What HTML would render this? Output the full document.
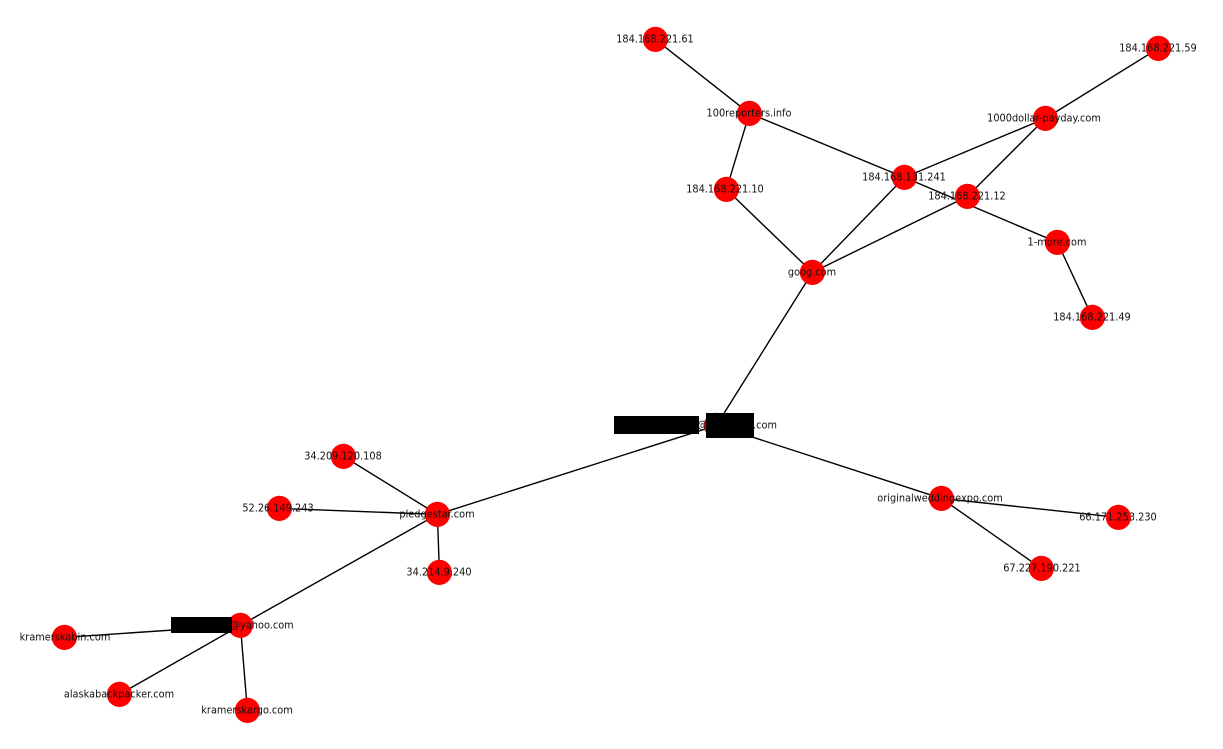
<!DOCTYPE html>
<html>
<head>
<meta charset="utf-8">
<style>
html,body{margin:0;padding:0;background:#fff;}
svg{display:block;}
text{font-family:"DejaVu Sans",sans-serif;font-size:10.5px;fill:#111;text-anchor:middle;dominant-baseline:central;transform-box:fill-box;transform-origin:center;transform:scaleX(.93);}
</style>
</head>
<body>
<svg width="1223" height="749" viewBox="0 0 1223 749" xmlns="http://www.w3.org/2000/svg">
<g transform="translate(0.4,0.4)">
<g stroke="#000" stroke-width="1.4" fill="none">
<line x1="655" y1="39" x2="749" y2="113"/>
<line x1="749" y1="113" x2="726" y2="189"/>
<line x1="749" y1="113" x2="904" y2="177"/>
<line x1="726" y1="189" x2="812" y2="272"/>
<line x1="904" y1="177" x2="812" y2="272"/>
<line x1="904" y1="177" x2="1045" y2="118"/>
<line x1="904" y1="177" x2="1057" y2="242"/>
<line x1="967" y1="196" x2="812" y2="272"/>
<line x1="967" y1="196" x2="1045" y2="118"/>
<line x1="1045" y1="118" x2="1158" y2="48"/>
<line x1="1057" y1="242" x2="1092" y2="317"/>
<line x1="812" y1="272" x2="716" y2="425"/>
<line x1="716" y1="425" x2="437" y2="514"/>
<line x1="716" y1="425" x2="941" y2="498"/>
<line x1="941" y1="498" x2="1118" y2="517"/>
<line x1="941" y1="498" x2="1041" y2="568"/>
<line x1="437" y1="514" x2="343" y2="456"/>
<line x1="437" y1="514" x2="279" y2="508"/>
<line x1="437" y1="514" x2="439" y2="572"/>
<line x1="437" y1="514" x2="240" y2="625"/>
<line x1="240" y1="625" x2="64" y2="637"/>
<line x1="240" y1="625" x2="119" y2="694"/>
<line x1="240" y1="625" x2="247" y2="710"/>
</g>
<g fill="#ff0000">
<circle cx="655" cy="39" r="12.6"/>
<circle cx="749" cy="113" r="12.6"/>
<circle cx="726" cy="189" r="12.6"/>
<circle cx="904" cy="177" r="12.6"/>
<circle cx="967" cy="196" r="12.6"/>
<circle cx="1045" cy="118" r="12.6"/>
<circle cx="1158" cy="48" r="12.6"/>
<circle cx="1057" cy="242" r="12.6"/>
<circle cx="1092" cy="317" r="12.6"/>
<circle cx="812" cy="272" r="12.6"/>
<circle cx="716" cy="425" r="12.6"/>
<circle cx="437" cy="514" r="12.6"/>
<circle cx="941" cy="498" r="12.6"/>
<circle cx="1118" cy="517" r="12.6"/>
<circle cx="1041" cy="568" r="12.6"/>
<circle cx="343" cy="456" r="12.6"/>
<circle cx="279" cy="508" r="12.6"/>
<circle cx="439" cy="572" r="12.6"/>
<circle cx="240" cy="625" r="12.6"/>
<circle cx="64" cy="637" r="12.6"/>
<circle cx="119" cy="694" r="12.6"/>
<circle cx="247" cy="710" r="12.6"/>
</g>
</g>
<g transform="translate(0,0.7)">
<text x="655" y="39">184.168.221.61</text>
<text x="749" y="113">100reporters.info</text>
<text x="725" y="189">184.168.221.10</text>
<text x="904" y="177">184.168.131.241</text>
<text x="967" y="196">184.168.221.12</text>
<text x="1044" y="118">1000dollar-payday.com</text>
<text x="1158" y="48">184.168.221.59</text>
<text x="1057" y="242">1-more.com</text>
<text x="1092" y="317">184.168.221.49</text>
<text x="812" y="272">goog.com</text>
<text x="437" y="514">pledgestar.com</text>
<text x="940" y="498">originalweddingexpo.com</text>
<text x="1118" y="517">66.171.253.230</text>
<text x="1042" y="568">67.227.190.221</text>
<text x="343" y="456">34.209.120.108</text>
<text x="278" y="508">52.26.149.243</text>
<text x="439" y="572">34.214.9.240</text>
<text x="65" y="637">kramerskabin.com</text>
<text x="119" y="694">alaskabackpacker.com</text>
<text x="247" y="710">kramerskargo.com</text>
<text x="702.5" y="425">@</text>
<text x="765" y="425">.com</text>
<text x="262" y="625">@yahoo.com</text>
</g>
<rect x="614" y="416" width="85" height="18" fill="#000"/>
<rect x="706" y="413" width="48" height="25" fill="#000"/>
<rect x="171" y="617" width="61" height="16" fill="#000"/>
</svg>
</body>
</html>
